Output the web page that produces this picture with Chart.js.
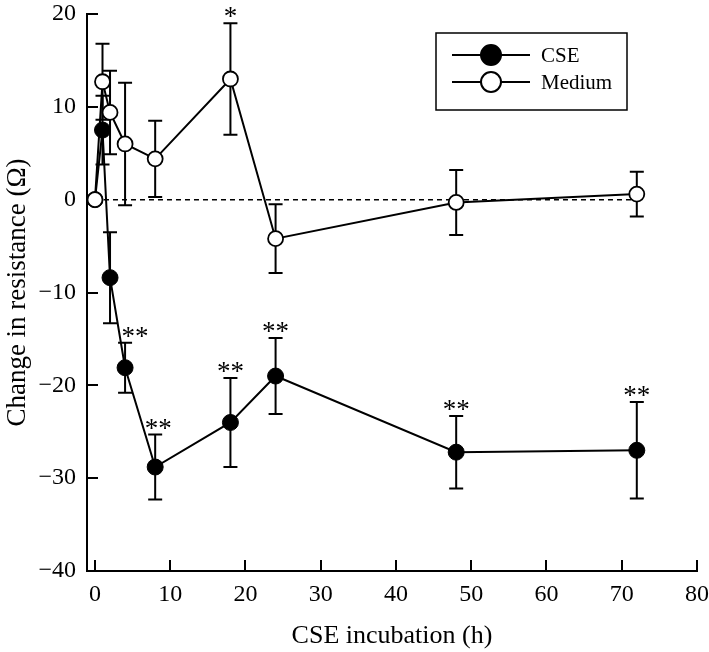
<!DOCTYPE html>
<html>
<head>
<meta charset="utf-8">
<script src="https://cdn.jsdelivr.net/npm/chart.js@4.4.0/dist/chart.umd.min.js"></script>
<style>
html, body { margin: 0; padding: 0; background: #fff; }
</style>
</head>
<body>
<canvas id="chart" width="709" height="652"></canvas>
<script>
// values
var hours = [0, 1, 2, 4, 8, 18, 24, 48, 72];
var cseValues = [0, 7.5, -8.4, -18.1, -28.8, -24.0, -19.0, -27.2, -27.0];
var cseErrors = [0, 3.7, 4.9, 2.7, 3.5, 4.8, 4.1, 3.9, 5.2];
var mediumValues = [0, 12.7, 9.4, 6.0, 4.4, 13.0, -4.2, -0.3, 0.6];
var mediumErrors = [0, 4.1, 4.5, 6.6, 4.1, 6.0, 3.7, 3.5, 2.4];
var cseMarks = ['', '', '', '**', '**', '**', '**', '**', '**'];
var mediumMarks = ['', '', '', '', '', '*', '', '', ''];
var xTicks = [0, 10, 20, 30, 40, 50, 60, 70, 80];
var yTicks = [-40, -30, -20, -10, 0, 10, 20];
var baseline = [0, 72];
var legendOrder = ['CSE', 'Medium'];

var serif = "'Liberation Serif', 'Times New Roman', serif";

function toPoints(xs, ys)
{
	var pts = [];
	for (var i = 0; i < xs.length; i++)
		pts.push({x: xs[i], y: ys[i]});
	return pts;
}

// labels sit outside the plot via layout padding, not the scale's own padding
function clearScalePadding(axis)
{
	axis.paddingLeft = 0;
	axis.paddingRight = 0;
	axis.paddingTop = 0;
	axis.paddingBottom = 0;
}

var errorBars = {
	id: 'errorBars',
	beforeDatasetsDraw: function(chart)
	{
		var ctx = chart.ctx;
		var xs = chart.scales.x, ys = chart.scales.y;
		var series = [[cseValues, cseErrors], [mediumValues, mediumErrors]];
		ctx.save();
		ctx.strokeStyle = '#000';
		ctx.lineWidth = 2;
		series.forEach(function(s) {
			for (var i = 0; i < hours.length; i++) {
				var e = s[1][i];
				if (!e) continue;
				var px = xs.getPixelForValue(hours[i]);
				var top = ys.getPixelForValue(s[0][i] + e);
				var bot = ys.getPixelForValue(s[0][i] - e);
				ctx.beginPath();
				ctx.moveTo(px, top); ctx.lineTo(px, bot);
				ctx.moveTo(px - 7, top); ctx.lineTo(px + 7, top);
				ctx.moveTo(px - 7, bot); ctx.lineTo(px + 7, bot);
				ctx.stroke();
			}
		});
		ctx.restore();
	}
};

var starMarks = {
	id: 'starMarks',
	afterDatasetsDraw: function(chart)
	{
		var ctx = chart.ctx;
		var xs = chart.scales.x, ys = chart.scales.y;
		var nudge = {4: 10, 8: 3};
		var series = [[cseValues, cseErrors, cseMarks], [mediumValues, mediumErrors, mediumMarks]];
		ctx.save();
		ctx.fillStyle = '#000';
		ctx.font = '27px ' + serif;
		ctx.textAlign = 'center';
		ctx.textBaseline = 'alphabetic';
		series.forEach(function(s) {
			for (var i = 0; i < hours.length; i++) {
				if (!s[2][i]) continue;
				var px = xs.getPixelForValue(hours[i]) + (nudge[hours[i]] || 0);
				var top = ys.getPixelForValue(s[0][i] + s[1][i]);
				ctx.fillText(s[2][i], px, top + 2);
			}
		});
		ctx.restore();
	}
};

var boxLegend = {
	id: 'boxLegend',
	afterDraw: function(chart)
	{
		var ctx = chart.ctx;
		var sets = chart.data.datasets;
		ctx.save();
		ctx.strokeStyle = '#000';
		ctx.lineWidth = 1.5;
		ctx.strokeRect(436, 33, 191, 77);
		ctx.font = '21px ' + serif;
		ctx.textBaseline = 'middle';
		legendOrder.forEach(function(name, i) {
			var d = sets.filter(function(s) { return s.label === name; })[0];
			var y = 55 + i * 27;
			ctx.lineWidth = 2;
			ctx.beginPath();
			ctx.moveTo(452, y); ctx.lineTo(530, y);
			ctx.stroke();
			ctx.beginPath();
			ctx.arc(491, y, 10, 0, Math.PI * 2);
			ctx.fillStyle = d.pointBackgroundColor;
			ctx.fill();
			ctx.stroke();
			ctx.fillStyle = '#000';
			ctx.fillText(name, 541, y + 1);
		});
		ctx.restore();
	}
};

var axisFont = { family: serif, size: 24 };

new Chart(document.getElementById('chart'), {
	type: 'scatter',
	data: {
		datasets: [
			{
				label: 'Medium',
				data: toPoints(hours, mediumValues),
				showLine: true,
				borderColor: '#000',
				borderWidth: 2,
				pointBackgroundColor: '#fff',
				pointBorderColor: '#000',
				pointBorderWidth: 1.8,
				pointRadius: 7.5,
				order: 1
			},
			{
				label: 'CSE',
				data: toPoints(hours, cseValues),
				showLine: true,
				borderColor: '#000',
				borderWidth: 2,
				pointBackgroundColor: '#000',
				pointBorderColor: '#000',
				pointBorderWidth: 1,
				pointRadius: 8,
				order: 2
			},
			{
				data: toPoints(baseline, [0, 0]),
				showLine: true,
				borderColor: '#000',
				borderWidth: 1.5,
				borderDash: [5, 4],
				pointRadius: 0,
				order: 3
			}
		]
	},
	options: {
		responsive: false,
		animation: false,
		layout: { padding: { top: 14, right: 12, left: 0, bottom: 0 } },
		plugins: {
			legend: { display: false },
			tooltip: { enabled: false }
		},
		scales: {
			x: {
				type: 'linear',
				min: -1.06,
				max: 80,
				afterBuildTicks: function(axis) {
					axis.ticks = xTicks.map(function(v) { return {value: v}; });
				},
				afterFit: function(axis) { axis.height = 81; clearScalePadding(axis); },
				ticks: { color: '#000', font: axisFont, padding: 20, maxRotation: 0 },
				grid: { drawOnChartArea: false, color: '#000', lineWidth: 2, tickLength: -11 },
				border: { color: '#000', width: 2 },
				title: {
					display: true,
					text: 'CSE incubation (h)',
					color: '#000',
					font: { family: serif, size: 26 },
					padding: 0
				}
			},
			y: {
				min: -40,
				max: 20,
				afterBuildTicks: function(axis) {
					axis.ticks = yTicks.map(function(v) { return {value: v}; });
				},
				afterFit: function(axis) { axis.width = 87; clearScalePadding(axis); },
				ticks: {
					color: '#000',
					font: axisFont,
					padding: 22,
					callback: function(v) { return v < 0 ? '\u2212' + Math.abs(v) : '' + v; }
				},
				grid: { drawOnChartArea: false, color: '#000', lineWidth: 2, tickLength: -11 },
				border: { color: '#000', width: 2 },
				title: {
					display: true,
					text: 'Change in resistance (\u03a9)',
					color: '#000',
					font: { family: serif, size: 27 },
					padding: { top: 2, bottom: 0 }
				}
			}
		}
	},
	plugins: [errorBars, starMarks, boxLegend]
});
</script>
</body>
</html>
